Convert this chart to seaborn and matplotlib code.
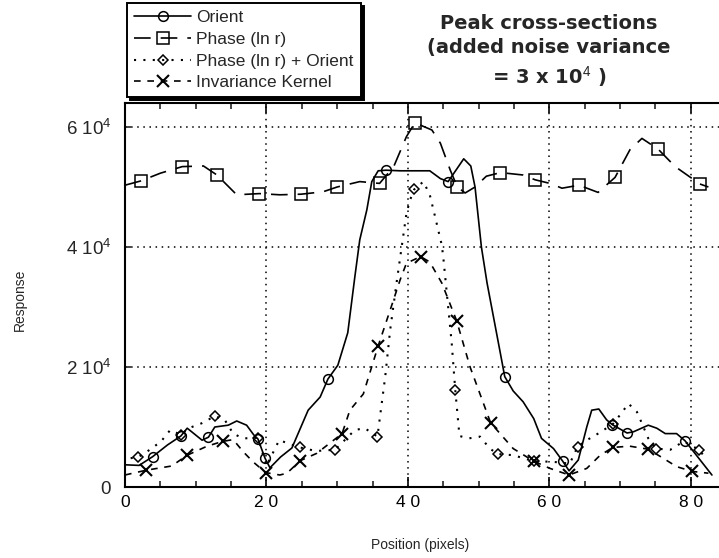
import numpy as np
import matplotlib
matplotlib.use("Agg")
import matplotlib.pyplot as plt
import seaborn as sns

# ---- data ----
orient_x = [0, 2.0, 3.9, 6.0, 7.9, 8.8, 10.9, 11.8, 12.7, 14.6, 15.8, 17.2, 18.2, 18.8, 19.8,
            20.5, 22.0, 23.6, 25.9, 27.6, 28.7, 30.1, 31.5, 32.5, 33.2, 34.2, 34.9, 35.8, 36.9,
            38.9, 43.1, 44.6, 45.7, 47.9, 48.9, 49.5, 50.4, 51.2, 52.1, 53.0, 53.7, 54.9, 56.3,
            57.8, 58.9, 60.6, 61.9, 62.8, 64.1, 65.3, 66.0, 67.0, 68.1, 68.9, 71.0, 71.9, 74.0,
            75.2, 76.4, 78.0, 79.2, 80.4, 83.0]
orient_y = [3700, 3600, 5050, 7000, 8500, 9800, 7800, 8300, 10000, 10300, 11000, 10300, 8700, 8000, 4800,
            3200, 5000, 6500, 12800, 15000, 18000, 20300, 25700, 35000, 41200, 46200, 50900, 52700, 52800,
            52700, 52700, 51400, 50900, 54700, 53500, 50000, 40000, 34000, 28400, 22800, 18400, 16000, 14200,
            11400, 8100, 6400, 4300, 2700, 4500, 10000, 12800, 13000, 11200, 10400, 9000, 9200, 10300,
            9800, 8900, 8900, 7700, 5900, 2000]
orient_marks = [3.9, 7.9, 11.8, 18.8, 19.8, 28.7, 36.9, 45.7, 53.7, 61.9, 68.9, 71.0, 79.2]

phase_x = [0, 2.2, 5.0, 8.1, 11.1, 13.0, 15.8, 19.0, 21.9, 24.9, 28.0, 30.0, 33.2, 36.0, 38.0,
           39.8, 41.0, 43.4, 44.6, 46.0, 47.0, 48.1, 49.5, 51.1, 53.1, 56.3, 58.0, 60.1, 61.8,
           64.2, 66.9, 69.3, 71.4, 73.1, 75.4, 77.8, 81.3, 82.5]
phase_y = [50300, 51000, 52300, 53400, 53500, 52000, 48700, 48900, 48700, 48800, 49200, 50000, 50900, 50600, 53400,
           58400, 60700, 59500, 57300, 52800, 50000, 49000, 50000, 51800, 52400, 52000, 51200, 50600, 49800,
           50300, 49100, 51600, 56200, 58100, 56300, 53400, 50500, 50000]
phase_marks = [2.2, 8.1, 13.0, 19.0, 24.9, 30.0, 36.0, 41.0, 47.0, 53.1, 58.0, 64.2, 69.3, 75.4, 81.3]

po_x = [0.8, 1.9, 3.5, 5.1, 6.4, 7.9, 9.0, 10.8, 12.7, 14.1, 15.3, 16.7, 18.8, 20.0, 21.8,
        24.7, 27.0, 29.7, 32.5, 33.9, 35.7, 36.3, 36.8, 37.5, 38.4, 39.8, 40.3, 40.9, 42.2,
        43.1, 43.8, 44.8, 45.0, 46.2, 46.7, 47.3, 48.6, 50.2, 51.6, 52.7, 54.9, 57.8, 60.5,
        62.9, 64.0, 65.3, 66.9, 69.0, 70.0, 71.2, 72.4, 73.1, 74.0, 75.1, 77.1, 79.0, 81.2, 82.3]
po_y = [4800, 5000, 6200, 7600, 9500, 8700, 9800, 10600, 11800, 11200, 8900, 8100, 8200, 3500, 7800,
        6600, 6000, 6200, 9500, 9800, 8400, 13900, 18400, 26200, 34000, 45600, 47800, 49600, 50900,
        48700, 45300, 40300, 38400, 24000, 16200, 8500, 8100, 8400, 6400, 5500, 5300, 4300, 4200,
        3900, 6700, 7800, 8900, 10500, 12000, 13900, 12500, 10600, 8100, 6400, 6200, 7600, 6200, 4500]
po_marks = [1.9, 7.9, 12.7, 18.8, 24.7, 29.7, 35.7, 40.9, 46.7, 52.7, 57.8, 64.0, 69.0, 75.1, 81.2]

ik_x = [0, 3.0, 6.6, 8.8, 11.6, 13.8, 15.3, 16.7, 18.1, 19.9, 21.9, 22.9, 24.8, 27.1, 30.7,
        31.8, 33.7, 35.8, 37.5, 38.9, 39.8, 41.8, 43.1, 44.8, 46.9, 48.8, 51.7, 54.9, 57.8,
        60.1, 62.8, 65.3, 67.2, 69.0, 71.4, 74.0, 76.1, 78.0, 80.2, 82.5]
ik_y = [2000, 2800, 3500, 5300, 6800, 7600, 7900, 5900, 4200, 2400, 2000, 2300, 4400, 5600, 8900,
        12800, 15500, 23500, 29500, 34500, 37300, 38400, 37500, 34000, 27700, 20000, 10700, 6400, 4300,
        3100, 2000, 3100, 5300, 6600, 6800, 6300, 4800, 3400, 2600, 2300]
ik_marks = [3.0, 8.8, 13.8, 19.9, 24.8, 30.7, 35.8, 41.8, 46.9, 51.7, 57.8, 62.8, 69.0, 74.0, 80.2]

x_ticks = [0, 20, 40, 60, 80]
x_labels = ["0", "2 0", "4 0", "6 0", "8 0"]
y_ticks = [0, 20000, 40000, 60000]
y_labels = ["0", r"2 10$^4$", r"4 10$^4$", r"6 10$^4$"]

sns.set_theme(style="white")
plt.rcParams['font.family'] = ['Liberation Sans', 'DejaVu Sans']
plt.rcParams['mathtext.fontset'] = 'custom'
plt.rcParams['mathtext.rm'] = 'Liberation Sans'

fig = plt.figure(figsize=(7.19, 5.58), dpi=100)
ax = fig.add_axes([125 / 719, 71 / 558, 594 / 719, 384 / 558])


def idx_of(xs, marks):
    return list(np.nonzero(np.isin(np.array(xs), np.array(marks)))[0])


common = dict(ax=ax, color='black', markeredgecolor='black', markeredgewidth=1.1, markerfacecolor='none')
sns.lineplot(x=orient_x, y=orient_y, marker='o', markersize=7, markevery=idx_of(orient_x, orient_marks),
             linestyle='-', linewidth=1.2, label='Orient', **common)
sns.lineplot(x=phase_x, y=phase_y, marker='s', markersize=8, markevery=idx_of(phase_x, phase_marks),
             linestyle=(0, (10, 6)), linewidth=1.2, label='Phase (ln r)', **common)
sns.lineplot(x=po_x, y=po_y, marker='D', markersize=5.5, markevery=idx_of(po_x, po_marks),
             linestyle=(0, (1, 3.5)), linewidth=1.5, label='Phase (ln r) + Orient', **common)
sns.lineplot(x=ik_x, y=ik_y, marker='x', markersize=8, markevery=idx_of(ik_x, ik_marks),
             linestyle=(0, (4, 4)), linewidth=1.2, label='Invariance Kernel',
             ax=ax, color='black', markeredgecolor='black', markeredgewidth=1.5)

handles, labels = ax.get_legend_handles_labels()
if ax.get_legend() is not None:
    ax.get_legend().remove()

ax.set_xlim(0, 84)
ax.set_ylim(0, 64000)
ax.set_xticks(x_ticks)
ax.set_xticklabels(x_labels, fontsize=12.5)
ax.set_xticks(np.arange(0, 85, 5), minor=True)
ax.set_yticks(y_ticks)
ax.set_yticklabels(y_labels, fontsize=13.5)
ax.tick_params(axis='x', which='major', direction='in', length=7, width=1.2, top=True, bottom=True,
               colors='black', pad=6)
ax.tick_params(axis='x', which='minor', direction='in', length=4, width=1.2, top=True, bottom=True)
ax.tick_params(axis='y', which='major', direction='in', length=4, width=1.2, left=True, pad=10)
ax.grid(True, which='major', color='black', linestyle=(0, (1, 3)), linewidth=1.1)
for side in ['left', 'bottom', 'top']:
    ax.spines[side].set_color('black')
    ax.spines[side].set_linewidth(1.5)
ax.spines['right'].set_visible(False)

fig.text(20 / 719, 1 - 300 / 558, 'Response', rotation=90, ha='center', va='center', fontsize=10)
fig.text(420 / 719, 1 - 545 / 558, 'Position (pixels)', ha='center', va='center', fontsize=10)

fig.text(549 / 719, 1 - 52 / 558, 'Peak cross-sections\n(added noise variance\n' + r'= 3 x 10$^4$ )',
         ha='center', va='center', fontsize=14, fontweight='bold', family='DejaVu Sans',
         linespacing=1.35)

leg = fig.legend(handles, labels, loc='upper left', bbox_to_anchor=(127 / 719, 1 - 3 / 558),
                 borderaxespad=0, fontsize=12.5, handlelength=3.3, handletextpad=0.3,
                 labelspacing=0.38, borderpad=0.4, fancybox=False, framealpha=1, edgecolor='black',
                 shadow={'color': 'black', 'alpha': 1})
leg.get_frame().set_linewidth(1.4)

fig.savefig('out.png', dpi=100)
